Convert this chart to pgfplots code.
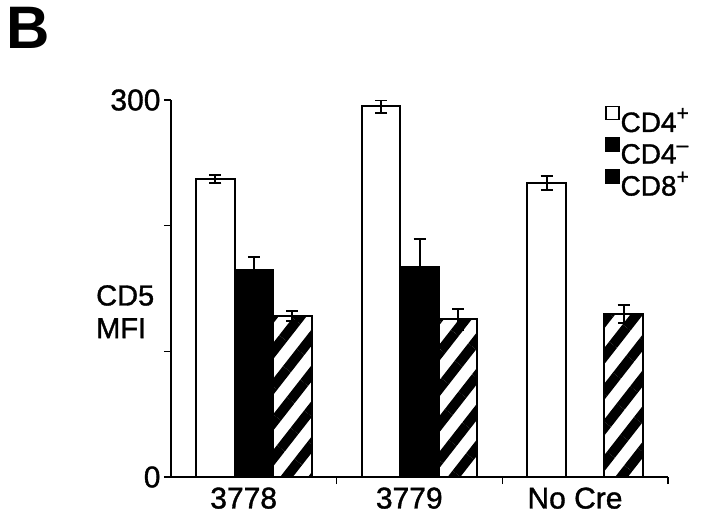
\documentclass[border=0pt]{standalone}
\usepackage{pgfplots}
\pgfplotsset{compat=1.18}
\usepackage{pgfplotstable}
\usepackage{fontspec}
\setmainfont{Liberation Sans}
\newfontfamily\heavy{Liberation Sans}[FakeBold=1.2]
\usetikzlibrary{patterns.meta}

\pgfplotstableread{
x y ep em
0 237 3 3
1 295 5 5
2 234 5.5 5.5
}\cdfourpos
\pgfplotstableread{
x y ep em
0 165 10 10
1 167 22 22
}\cdfourneg
\pgfplotstableread{
x y ep em
0 128 4 4
1 125.5 8.5 8.5
2 129.5 7 7
}\cdeight

\newcommand{\legsup}[1]{\raisebox{0.42em}{\fontsize{21}{21}\selectfont #1}}

\begin{document}
\begin{tikzpicture}
\path[use as bounding box] (0,0) rectangle (720pt,-522pt);
\node[anchor=north west, inner sep=0pt, font=\fontsize{60}{60}\selectfont\bfseries] at (6pt,-7pt) {B};
\node[anchor=north west, inner sep=0pt, font=\heavy\fontsize{29}{30}\selectfont] at (96pt,-285pt) {CD5};
\node[anchor=north west, inner sep=0pt, font=\heavy\fontsize{29}{30}\selectfont] at (96pt,-318pt) {MFI};
\begin{axis}[
  at={(171pt,-477pt)}, anchor=south west,
  width=497pt, height=377pt, scale only axis,
  xmin=-0.5, xmax=2.5, ymin=0, ymax=300,
  axis lines=left, axis line style={-, line width=2pt},
  ybar=0pt, bar width=38.5pt,
  xtick={0.5,1.5,2.5}, xticklabels={3778,3779,No Cre},
  xticklabel style={xshift=-93pt},
  ytick={0,100,200,300}, yticklabels={0,,,300},
  tick align=outside, major tick length=7pt,
  tick style={black, line width=1.6pt},
  tick label style={font=\heavy\fontsize{30}{31}\selectfont},
  /pgf/number format/assume math mode=true,
  legend style={draw=none, fill=none, at={(0.873,0.985)}, anchor=north west,
    font=\heavy\fontsize{28}{29}\selectfont, row sep=5pt, inner sep=0pt,
    nodes={inner sep=0.5pt, text height=20pt, text depth=0pt}},
  legend cell align=left,
  legend image code/.code={\draw[#1, line width=1.2pt] (0pt,2.5pt) rectangle (13pt,15.5pt);},
]
\addplot[fill=white, draw=black, line width=2pt,
  error bars/.cd, y dir=both, y explicit,
  error bar style={line width=2pt},
  error mark options={rotate=90, mark size=6pt, line width=2pt}]
  table[x=x, y=y, y error plus=ep, y error minus=em] {\cdfourpos};
\addlegendentry{CD4\legsup{+}}
\addplot[fill=black, draw=black, line width=2pt,
  error bars/.cd, y dir=plus, y explicit,
  error bar style={line width=2pt},
  error mark options={rotate=90, mark size=6pt, line width=2pt}]
  table[x=x, y=y, y error plus=ep, y error minus=em] {\cdfourneg};
\addlegendentry{CD4\legsup{\textendash}}
\addplot[draw=black, line width=2pt,
  pattern={Lines[angle=52, distance=22pt, line width=10pt]}, pattern color=black,
  legend image code/.code={\fill[black] (0pt,2.5pt) rectangle (13pt,15.5pt);},
  error bars/.cd, y dir=both, y explicit,
  error bar style={line width=2pt},
  error mark options={rotate=90, mark size=6pt, line width=2pt}]
  table[x=x, y=y, y error plus=ep, y error minus=em] {\cdeight};
\addlegendentry{CD8\legsup{+}}
\end{axis}
\end{tikzpicture}
\end{document}
